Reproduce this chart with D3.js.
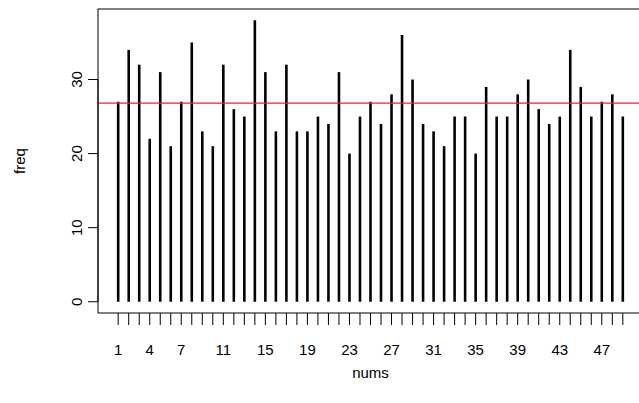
<!DOCTYPE html>
<html><head><meta charset="utf-8">
<script src="https://cdn.jsdelivr.net/npm/d3@7"></script>
<style>body{margin:0;background:#fff}svg{display:block}text{font-family:"Liberation Sans",Arial,sans-serif;fill:#000}</style>
</head><body><svg id="c" width="639" height="403"></svg>
<script>
const nums = d3.range(1, 50);
const freq = [27,34,32,22,31,21,27,35,23,21,32,26,25,38,31,23,32,23,23,25,24,31,20,25,27,24,28,36,30,24,23,21,25,25,20,29,25,25,28,30,26,24,25,34,29,25,27,28,25];
const xLabels = [1,4,7,11,15,19,23,27,31,35,39,43,47];
const yTicks = [0,10,20,30];
const meanFreq = d3.mean(freq);

const svg = d3.select("#c");
const x = d3.scaleLinear().domain([-0.92, 50.92]).range([98, 643]);
const y = d3.scaleLinear().domain([-1.52, 39.52]).range([313, 9]);

// box
svg.append("rect").attr("x",98).attr("y",9).attr("width",545).attr("height",304)
  .attr("fill","none").attr("stroke","#000").attr("stroke-width",1);

// bars (type h)
svg.append("g").selectAll("line").data(freq).join("line")
  .attr("x1",(d,i)=>x(nums[i])).attr("x2",(d,i)=>x(nums[i]))
  .attr("y1",y(0)).attr("y2",d=>y(d))
  .attr("stroke","#000").attr("stroke-width",2.6);

// mean line
svg.append("line").attr("x1",98).attr("x2",639).attr("y1",y(meanFreq)).attr("y2",y(meanFreq))
  .attr("stroke","#e8262b").attr("stroke-width",1.2);

// x axis
const xa = svg.append("g").attr("transform","translate(0,313)");
xa.selectAll("line").data(nums).join("line")
  .attr("x1",d=>x(d)).attr("x2",d=>x(d)).attr("y1",0).attr("y2",12)
  .attr("stroke","#000").attr("stroke-width",1);
xa.selectAll("text").data(xLabels).join("text")
  .attr("x",d=>x(d)).attr("y",42).attr("text-anchor","middle")
  .attr("font-size",15).text(d=>d);

// y axis
const ya = svg.append("g").attr("transform","translate(98,0)");
ya.append("line").attr("x1",0).attr("x2",0).attr("y1",y(0)).attr("y2",y(30)).attr("stroke","#000");
ya.selectAll("line.t").data(yTicks).join("line").attr("class","t")
  .attr("x1",-10).attr("x2",0).attr("y1",d=>y(d)).attr("y2",d=>y(d))
  .attr("stroke","#000");
ya.selectAll("text").data(yTicks).join("text")
  .attr("transform",d=>`translate(-16,${y(d)}) rotate(-90)`)
  .attr("text-anchor","middle").attr("font-size",15).text(d=>d);

// axis titles
svg.append("text").attr("x",x(25)).attr("y",378).attr("text-anchor","middle").attr("font-size",15).text("nums");
svg.append("text").attr("transform",`translate(25,${y(19)}) rotate(-90)`).attr("text-anchor","middle").attr("font-size",15).text("freq");
</script></body></html>
